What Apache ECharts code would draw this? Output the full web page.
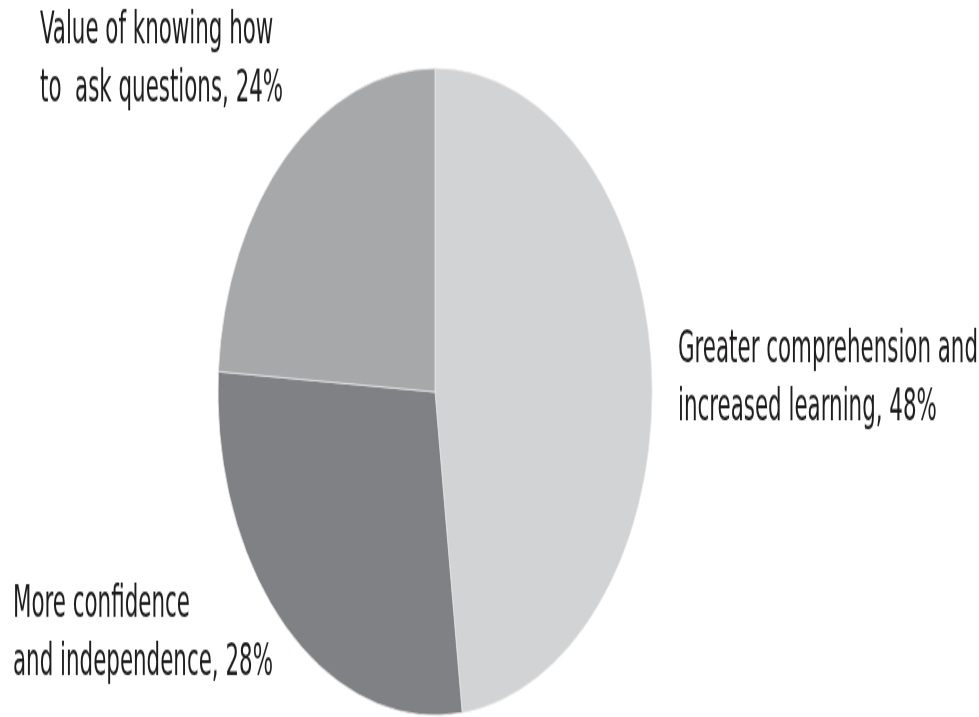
<!DOCTYPE html>
<html>
<head>
<meta charset="utf-8">
<script src="https://cdn.jsdelivr.net/npm/echarts@6/dist/echarts.min.js"></script>
<style>
  html, body { margin: 0; padding: 0; background: #fff; }
  body { width: 979px; height: 717px; overflow: hidden; }
  /* the source figure is a round pie squeezed sideways, so stretch vertically */
  #chart { width: 979px; height: 481px; transform: scaleY(1.49); transform-origin: 0 0; }
</style>
</head>
<body>
<div id="chart"></div>
<script>
const names = [
  'Greater comprehension and\nincreased learning, 48%',
  'More confidence\nand independence, 28%',
  'Value of knowing how\nto  ask questions, 24%'
]
const values = [48, 28, 24]
const colors = ['#d2d3d4', '#808184', '#a7a8aa']
// label anchor spots (unscaled px), one per slice
const labelSpots = [[678, 215], [13, 386], [40, 1]]

const chart = echarts.init(document.getElementById('chart'))

const option = {
  backgroundColor: '#fff',
  animation: false,
  // labels drawn as narrow text blocks (condensed look of the original)
  graphic: names.map((n, i) => ({
    type: 'text',
    x: labelSpots[i][0],
    y: labelSpots[i][1],
    scaleX: 0.767,
    silent: true,
    style: {
      text: n,
      fontFamily: "'DejaVu Sans Condensed', 'Liberation Sans', sans-serif",
      fontSize: 31,
      lineHeight: 39,
      fill: '#1e1c1d',
      textAlign: 'left',
      textVerticalAlign: 'top'
    }
  })),
  series: [
    {
      type: 'pie',
      center: [435, 263],
      radius: 217,
      startAngle: 90,
      clockwise: true,
      data: names.map((n, i) => ({
        name: n,
        value: values[i],
        itemStyle: { color: colors[i] }
      })),
      itemStyle: { borderColor: '#e6e6e6', borderWidth: 0.8 },
      label: { show: false },
      labelLine: { show: false },
      emphasis: { disabled: true }
    }
  ]
}

chart.setOption(option)
</script>
</body>
</html>
